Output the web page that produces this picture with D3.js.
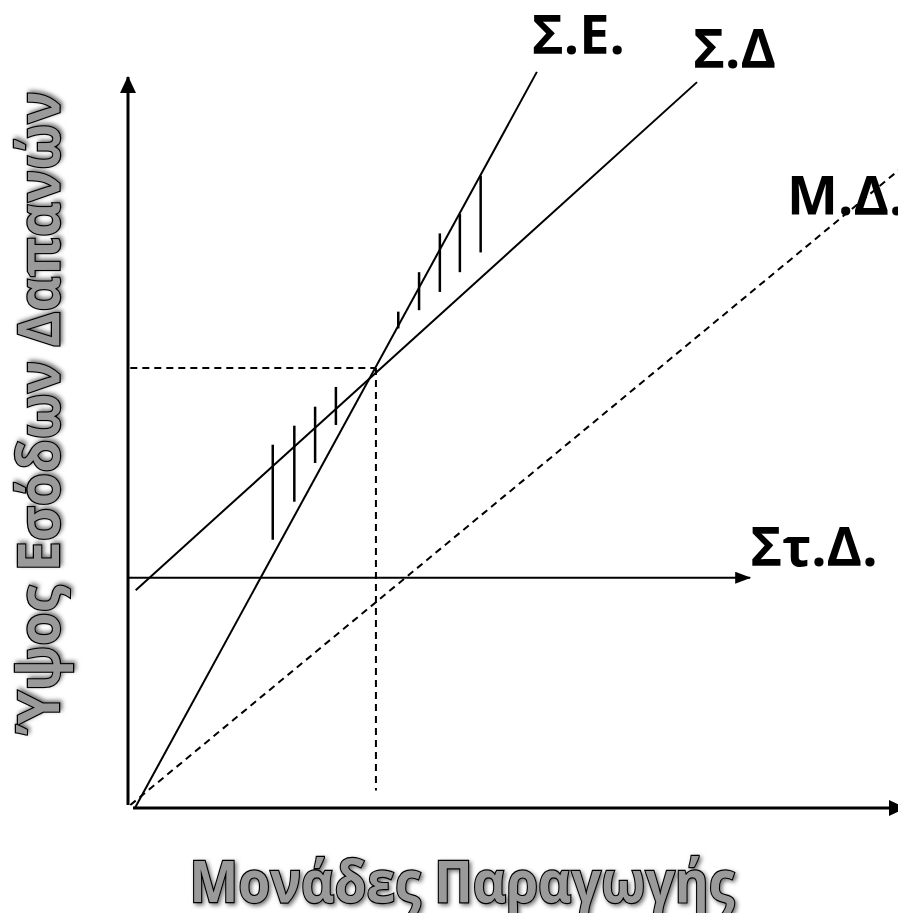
<!DOCTYPE html>
<html>
<head>
<meta charset="utf-8">
<script src="https://cdn.jsdelivr.net/npm/d3@7"></script>
<style>
  html, body { margin: 0; padding: 0; background: #fff; }
  svg { display: block; }
</style>
</head>
<body>
<svg id="chart" width="898" height="913"></svg>
<script>
// line end points in chart units (x: units produced, y: revenue / cost)
var revenueLine = [[0.9, 0], [53.1, 100.7]];        // Σ.Ε.
var totalCostLine = [[1.0, 29.8], [73.9, 99.3]];    // Σ.Δ
var variableCostLine = [[0.3, 0.4], [100.5, 87.6]]; // Μ.Δ.
var fixedCostLine = [[0, 31.5], [80.8, 31.5]];      // Στ.Δ.
var breakEven = [32.2, 60.2];

// hatch marks between revenue and total cost (loss left, profit right)
var hatchX = [18.8, 21.6, 24.3, 27.0, 35.1, 37.8, 40.5, 43.1, 45.8];
var hatchTop = [49.7, 52.3, 54.9, 57.6, 67.9, 73.3, 78.6, 81.3, 86.5];
var hatchBottom = [36.7, 41.9, 47.2, 52.4, 65.6, 68.1, 70.6, 73.3, 76.0];

var lineLabels = ['Σ.Ε.', 'Σ.Δ', 'Μ.Δ.', 'Στ.Δ.'];
var xTitle = 'Μονάδες Παραγωγής';
var yTitle = 'Ύψος Εσόδων Δαπανών';

var svg = d3.select('#chart');

var x = d3.scaleLinear().domain([0, 100]).range([128, 898]);
var y = d3.scaleLinear().domain([0, 100]).range([808, 77]);

var line = d3.line()
  .x(function (d) { return x(d[0]); })
  .y(function (d) { return y(d[1]); });

//arrow heads and text shadow
var defs = svg.append('defs');

var addArrow = function (id, len, half) {
  defs.append('marker')
    .attr('id', id)
    .attr('markerUnits', 'userSpaceOnUse')
    .attr('viewBox', [0, -half, len, half * 2].join(' '))
    .attr('markerWidth', len)
    .attr('markerHeight', half * 2)
    .attr('refX', len - 1)
    .attr('refY', 0)
    .attr('orient', 'auto')
    .append('path')
    .attr('d', 'M0,' + (-half) + 'L' + len + ',0L0,' + half + 'Z')
    .attr('fill', '#000');
};
addArrow('axisArrow', 17, 8);
addArrow('smallArrow', 16, 6);

var shadow = defs.append('filter')
  .attr('id', 'shadow')
  .attr('x', '-10%').attr('y', '-30%')
  .attr('width', '120%').attr('height', '160%');
shadow.append('feDropShadow')
  .attr('dx', 2).attr('dy', 2)
  .attr('stdDeviation', 2)
  .attr('flood-color', '#000')
  .attr('flood-opacity', 0.55);

//axes
svg.append('path')
  .attr('d', line([[0, 0.4], [0, 100]]))
  .attr('stroke', '#000')
  .attr('stroke-width', 3)
  .attr('fill', 'none')
  .attr('marker-end', 'url(#axisArrow)');

svg.append('path')
  .attr('d', line([[0.65, 0], [100.9, 0]]))
  .attr('stroke', '#000')
  .attr('stroke-width', 3)
  .attr('fill', 'none')
  .attr('marker-end', 'url(#axisArrow)');

//fixed cost
svg.append('path')
  .attr('d', line(fixedCostLine))
  .attr('stroke', '#000')
  .attr('stroke-width', 2.2)
  .attr('fill', 'none')
  .attr('marker-end', 'url(#smallArrow)');

//variable cost (dashed)
svg.append('path')
  .attr('d', line(variableCostLine))
  .attr('stroke', '#000')
  .attr('stroke-width', 2)
  .attr('stroke-dasharray', '7,5')
  .attr('fill', 'none');

//break-even guides
svg.append('path')
  .attr('d', line([[0.3, breakEven[1]], breakEven]))
  .attr('stroke', '#000')
  .attr('stroke-width', 2)
  .attr('stroke-dasharray', '7,5')
  .attr('fill', 'none');

svg.append('path')
  .attr('d', line([breakEven, [breakEven[0], 2.4]]))
  .attr('stroke', '#000')
  .attr('stroke-width', 2)
  .attr('stroke-dasharray', '7,5')
  .attr('fill', 'none');

//revenue and total cost
svg.selectAll('.main-line')
  .data([revenueLine, totalCostLine])
  .enter()
  .append('path')
  .attr('class', 'main-line')
  .attr('d', line)
  .attr('stroke', '#000')
  .attr('stroke-width', 2)
  .attr('fill', 'none');

//hatching
svg.selectAll('.hatch')
  .data(hatchX)
  .enter()
  .append('line')
  .attr('class', 'hatch')
  .attr('x1', function (d) { return x(d); })
  .attr('x2', function (d) { return x(d); })
  .attr('y1', function (d, i) { return y(hatchTop[i]); })
  .attr('y2', function (d, i) { return y(hatchBottom[i]); })
  .attr('stroke', '#000')
  .attr('stroke-width', 2.5);

//line labels
var revEnd = revenueLine[1];
var costEnd = totalCostLine[1];
var fixEnd = fixedCostLine[1];
var labelPos = [
  [x(revEnd[0]) - 5, y(revEnd[1]) - 18],
  [x(costEnd[0]) - 4, y(costEnd[1]) - 14],
  [x(85.6), y(81.1)],
  [x(fixEnd[0]), y(fixEnd[1]) - 12]
];

svg.selectAll('.line-label')
  .data(lineLabels)
  .enter()
  .append('text')
  .attr('class', 'line-label')
  .attr('x', function (d, i) { return labelPos[i][0]; })
  .attr('y', function (d, i) { return labelPos[i][1]; })
  .attr('font-family', 'Open Sans, sans-serif')
  .attr('font-weight', 'bold')
  .attr('font-size', 54)
  .attr('fill', '#000')
  .text(function (d) { return d; });

//axis titles
var titleStyle = function (sel) {
  sel
    .attr('font-family', 'Open Sans, sans-serif')
    .attr('font-weight', 'bold')
    .attr('font-size', 57)
    .attr('fill', '#9a9a9a')
    .attr('stroke', '#000')
    .attr('stroke-width', 2.4)
    .attr('paint-order', 'stroke')
    .attr('text-anchor', 'middle')
    .attr('lengthAdjust', 'spacingAndGlyphs')
    .attr('filter', 'url(#shadow)');
};

svg.append('text')
  .attr('x', 462)
  .attr('y', 902)
  .attr('textLength', 545)
  .call(titleStyle)
  .text(xTitle);

svg.append('text')
  .attr('transform', 'translate(59,413) rotate(-90)')
  .attr('textLength', 643)
  .call(titleStyle)
  .text(yTitle);
</script>
</body>
</html>
